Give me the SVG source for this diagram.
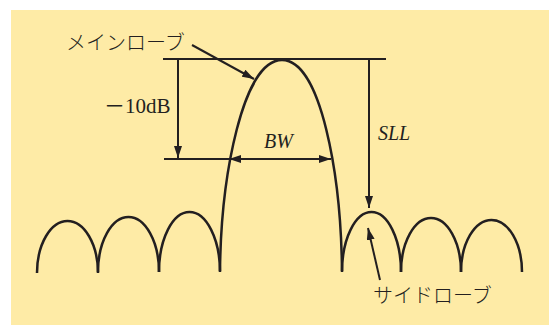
<svg xmlns="http://www.w3.org/2000/svg" width="549" height="325" viewBox="0 0 549 325">
<defs>
<style>
.ln{stroke:#231f20;stroke-width:2;fill:none}
.cv{stroke:#231f20;stroke-width:2.5;fill:none}
.jp{font-family:"Noto Sans CJK JP","Noto Sans",sans-serif;font-weight:300;font-size:20px;fill:#231f20}
.it{font-family:"Liberation Serif",serif;font-style:italic;font-size:20px;fill:#231f20}
.rm{font-family:"Liberation Serif","Noto Sans CJK JP",serif;font-size:21px;fill:#231f20}
</style>
<marker id="ah" viewBox="0 0 12 8" refX="12" refY="4" markerWidth="12" markerHeight="8" markerUnits="userSpaceOnUse" orient="auto">
<path d="M0,0 L12,4 L0,8 z" fill="#231f20"/>
</marker>
</defs>
<rect x="11" y="10" width="538" height="315" fill="#feeba6"/>
<g id="main-lobe">
<path class="cv" d="M220,271 C221,175 243,60 282,60 C321,60 341,175 342,271"/>
</g>
<g id="side-lobes">
<path class="cv" d="M37,273 A30.5,52 0 0 1 98,273"/>
<path class="cv" d="M98,272 A30.5,55 0 0 1 159,272"/>
<path class="cv" d="M159,272 A30.5,60 0 0 1 220,272"/>
<path class="cv" d="M342,272 A29.5,60 0 0 1 401,272"/>
<path class="cv" d="M401,272 A30,54 0 0 1 461,272"/>
<path class="cv" d="M461,272 A30.5,52 0 0 1 522,272"/>
</g>
<g id="connectors">
<line class="ln" x1="163" y1="59" x2="386" y2="59"/>
<line class="ln" x1="178" y1="59" x2="178" y2="158" marker-end="url(#ah)"/>
<line class="ln" x1="164" y1="159" x2="229" y2="159"/>
<line class="ln" x1="241" y1="159" x2="229" y2="159" marker-end="url(#ah)"/>
<line class="ln" x1="235" y1="159" x2="331" y2="159" marker-end="url(#ah)"/>
<line class="ln" x1="369" y1="59" x2="369" y2="208" marker-end="url(#ah)"/>
<line class="ln" x1="192" y1="45" x2="254" y2="79" marker-end="url(#ah)"/>
<line class="ln" x1="380" y1="280" x2="368" y2="228" marker-end="url(#ah)"/>
</g>
<g id="labels">
<text class="jp" x="66" y="50">メインローブ</text>
<text class="rm" x="104" y="113">－10dB</text>
<text class="it" x="264" y="148">BW</text>
<text class="it" x="378" y="140">SLL</text>
<text class="jp" x="373" y="303">サイドローブ</text>
</g>
</svg>
